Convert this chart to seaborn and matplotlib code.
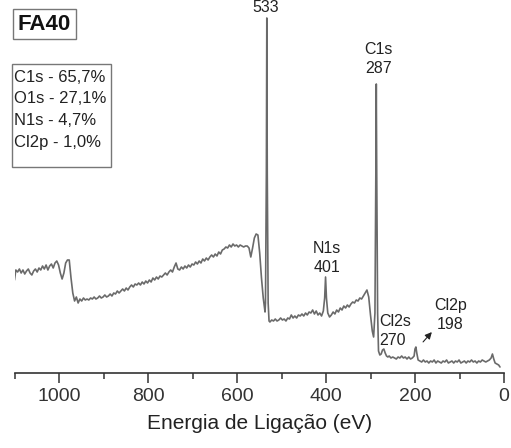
import numpy as np
import pandas as pd
import seaborn as sns
import matplotlib
matplotlib.use("Agg")
import matplotlib.pyplot as plt
from matplotlib.patches import Rectangle
from matplotlib.ticker import MultipleLocator

# XPS survey spectrum, sample FA40 (arbitrary units)
energia = [
    1100, 1097, 1093, 1089, 1085, 1081, 1077, 1073, 1069, 1065, 1061, 1057, 1053, 1049,
    1045, 1041, 1037, 1033, 1029, 1025, 1021, 1017, 1013, 1009, 1005, 1001, 997, 993,
    989, 985, 981, 977, 973, 969, 965, 961, 957, 953, 949, 945, 941, 937, 933, 929,
    925, 921, 917, 913, 909, 905, 901, 897, 893, 889, 885, 881, 877, 873, 869, 865,
    861, 857, 853, 849, 845, 841, 837, 833, 829, 825, 821, 817, 813, 809, 805, 801,
    797, 793, 789, 785, 781, 777, 773, 769, 765, 761, 757, 753, 749, 745, 741, 737,
    733, 729, 725, 721, 717, 713, 709, 705, 701, 697, 693, 689, 685, 681, 677, 673,
    669, 665, 661, 657, 653, 649, 645, 641, 637, 633, 629, 625, 621, 617, 613, 609,
    605, 601, 597, 593, 589, 585, 581, 577, 573, 569, 565, 561, 557, 553, 549, 545,
    541, 537, 536, 534, 533, 532, 530, 528,
    526, 522, 518, 514, 510, 506, 502, 498, 494, 490, 486, 482, 478, 474, 470, 466,
    462, 458, 454, 450, 446, 442, 438, 434, 430, 426, 422, 418, 414, 410, 406, 403,
    401, 399, 396, 392, 388, 384, 380, 376, 372, 368, 364, 360, 356, 352, 348, 344,
    340, 336, 332, 328, 324, 320, 316, 312, 308, 304, 300, 296, 293, 290, 288, 287,
    286, 284, 282, 279, 276, 273, 270, 267, 264, 261, 258, 254, 250, 246, 242, 238,
    234, 230, 226, 222, 218, 214, 210, 206, 202, 200, 198, 196, 193, 189, 185, 181,
    177, 173, 169, 165, 161, 157, 153, 149, 145, 141, 137, 133, 129, 125, 121, 117,
    113, 109, 105, 101, 97, 93, 89, 85, 81, 77, 73, 69, 65, 61, 57, 53,
    49, 45, 41, 37, 33, 29, 26, 23, 20, 16, 12, 9,
]
intensidade = [
    93, 103, 101, 104, 100, 103, 99, 102, 104, 100, 98, 102, 104, 101,
    105, 103, 107, 104, 108, 103, 107, 109, 105, 110, 112, 108, 100, 94,
    100, 110, 113, 113, 95, 80, 72, 76, 70, 74, 72, 75, 73, 74, 73, 75,
    74, 76, 74, 75, 77, 75, 76, 78, 76, 77, 79, 77, 80, 79, 82, 80,
    82, 84, 82, 85, 83, 86, 88, 86, 89, 88, 90, 88, 91, 89, 92, 90,
    93, 91, 95, 93, 96, 94, 97, 96, 98, 100, 98, 101, 103, 101, 106, 110,
    104, 103, 106, 104, 107, 105, 108, 106, 109, 108, 111, 109, 112, 110, 114, 112,
    115, 113, 116, 118, 116, 119, 117, 121, 119, 123, 124, 126, 125, 128, 126, 129,
    127, 128, 126, 128, 127, 126, 127, 127, 125, 116, 125, 135, 139, 138, 120, 95,
    75, 61, 70, 200, 355, 200, 70, 52,
    51, 53, 52, 54, 52, 53, 55, 53, 54, 52, 55, 54, 58, 55, 57, 55,
    58, 57, 59, 57, 60, 58, 61, 60, 63, 59, 62, 58, 60, 57, 62, 75,
    96, 75, 60, 56, 58, 61, 59, 63, 61, 65, 63, 67, 65, 68, 66, 69,
    71, 70, 73, 72, 75, 74, 77, 80, 83, 76, 58, 42, 36, 60, 200, 289,
    200, 60, 22, 18, 19, 23, 24, 20, 17, 16, 17, 15, 16, 15, 14, 16,
    15, 17, 15, 16, 14, 16, 14, 15, 17, 24, 26, 20, 13, 12, 11, 13,
    11, 12, 10, 12, 11, 13, 10, 12, 11, 10, 12, 11, 13, 10, 11, 12,
    10, 12, 11, 13, 10, 11, 12, 10, 12, 11, 13, 11, 12, 10, 12, 11,
    13, 12, 11, 12, 13, 15, 19, 14, 10, 9, 8, 6,
]

# peak labels: text, energy position, intensity position
picos = ["533", "C1s\n287", "N1s\n401", "Cl2s\n270", "Cl2p\n198"]
picos_x = [535, 283, 398, 280, 121]
picos_y = [365, 314, 115, 42, 58]
picos_ha = ["center", "center", "center", "left", "center"]

composicao = ["C1s - 65,7%", "O1s - 27,1%", "N1s - 4,7%", "Cl2p - 1,0%"]

df = pd.DataFrame({"energia": energia, "intensidade": intensidade})

sns.set_style("ticks")
plt.rcParams["font.family"] = ["Liberation Sans", "DejaVu Sans"]

fig = plt.figure(figsize=(5.11, 4.48), dpi=100)
ax = fig.add_axes([14.5 / 511, 75 / 448, 489.5 / 511, 373 / 448])

sns.lineplot(data=df, x="energia", y="intensidade", ax=ax, color="#6a6a6a",
             linewidth=1.2, sort=False, estimator=None)

ax.set_xlim(1100, 0)
ax.set_ylim(0, 373)
ax.xaxis.set_major_locator(MultipleLocator(200))
ax.xaxis.set_minor_locator(MultipleLocator(100))
ax.tick_params(axis="x", which="major", length=7, width=1.1, colors="#333333",
               labelsize=14, pad=4)
ax.tick_params(axis="x", which="minor", length=4, width=1.1, colors="#333333")
ax.set_yticks([])
ax.set_ylabel("")
ax.set_xlabel("Energia de Ligação (eV)", fontsize=15, color="#222222", labelpad=6)
sns.despine(ax=ax, left=True)
ax.spines["bottom"].set_color("#333333")
ax.spines["bottom"].set_linewidth(1.2)

for txt, x, y, ha in zip(picos, picos_x, picos_y, picos_ha):
    ax.text(x, y, txt, ha=ha, va="center", fontsize=11.5, color="#222222",
            linespacing=1.3)

ax.annotate("", xy=(158, 43), xytext=(186, 29),
            arrowprops=dict(arrowstyle="-|>", color="#222222", lw=0.8,
                            mutation_scale=10))

# sample tag box
fig.patches.append(Rectangle((13 / 511, 1 - 39 / 448), 63 / 511, 30 / 448,
                             transform=fig.transFigure, fill=False,
                             edgecolor="#777777", linewidth=1.0))
fig.text(44.5 / 511, 1 - 24 / 448, "FA40", ha="center", va="center",
         fontsize=16, fontweight="bold", color="#111111")

# composition box
fig.patches.append(Rectangle((12 / 511, 1 - 167 / 448), 99 / 511, 103 / 448,
                             transform=fig.transFigure, fill=False,
                             edgecolor="#777777", linewidth=1.0))
for i, linha in enumerate(composicao):
    fig.text(14 / 511, 1 - (77 + 21.7 * i) / 448, linha, ha="left", va="center",
             fontsize=12, color="#222222")

fig.savefig("out.png", dpi=100)
